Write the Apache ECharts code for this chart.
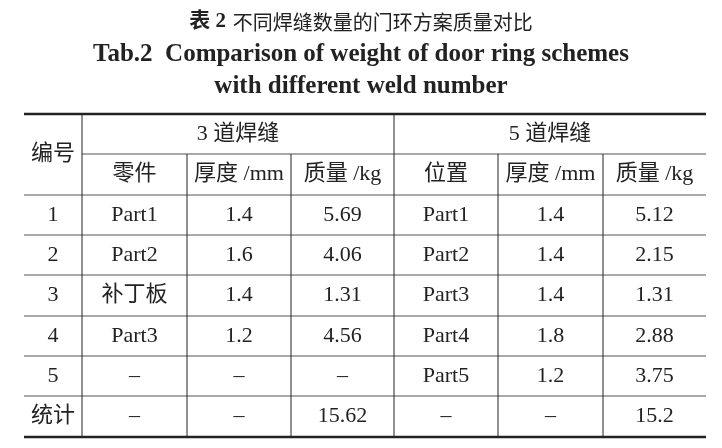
<!DOCTYPE html>
<html>
<head>
<meta charset="utf-8">
<script src="https://cdn.jsdelivr.net/npm/echarts@6/dist/echarts.min.js"></script>
<style>html,body{margin:0;background:#fff}#main{width:722px;height:448px}</style>
</head>
<body>
<div id="main"></div>
<script>
var titleCn = '不同焊缝数量的门环方案质量对比';
var titleEn = ['Tab.2  Comparison of weight of door ring schemes', 'with different weld number'];
var groupHeaders = ['3 道焊缝', '5 道焊缝'];
var subHeaders = ['零件', '厚度 /mm', '质量 /kg', '位置', '厚度 /mm', '质量 /kg'];
var ids = ['1', '2', '3', '4', '5', '统计'];
var parts3 = ['Part1', 'Part2', '补丁板', 'Part3', '–', '–'];
var thick3 = ['1.4', '1.6', '1.4', '1.2', '–', '–'];
var mass3 = ['5.69', '4.06', '1.31', '4.56', '–', '15.62'];
var parts5 = ['Part1', 'Part2', 'Part3', 'Part4', 'Part5', '–'];
var thick5 = ['1.4', '1.4', '1.4', '1.8', '1.2', '–'];
var mass5 = ['5.12', '2.15', '1.31', '2.88', '3.75', '15.2'];

var colX = [24, 82, 187, 291, 394, 498, 603, 706];
var rowY = [114, 154, 195, 235, 275, 316, 356, 396, 437];
var font = '"Liberation Serif", "Noto Sans CJK SC", serif';
var els = [];

function line(x1, y1, x2, y2, w, c) {
  els.push({ type: 'line', shape: { x1: x1, y1: y1, x2: x2, y2: y2 }, style: { stroke: c || '#222', lineWidth: w || 1 } });
}
function text(x, y, s, size, weight) {
  els.push({ type: 'text', x: x, y: y, style: { text: s, font: (weight || 'normal') + ' ' + (size || 22) + 'px ' + font, fill: '#222', align: 'center', verticalAlign: 'middle' } });
}

// titles
els.push({ type: 'text', x: 361, y: 22, style: { rich: { b: { font: 'bold 21px ' + font, fill: '#222' }, n: { font: '20px "Noto Sans CJK SC", sans-serif', fill: '#222' } }, text: '{b|表 2}  {n|' + titleCn + '}', align: 'center', verticalAlign: 'middle' } });
text(361, 55, titleEn[0], 25, 'bold');
text(361, 87, titleEn[1], 25, 'bold');

// borders
line(colX[0], rowY[0], colX[7], rowY[0], 2.5);
line(colX[0], rowY[8], colX[7], rowY[8], 2.5);
line(colX[1], rowY[1], colX[7], rowY[1], 1, '#555');
for (var r = 2; r < 8; r++) line(colX[0], rowY[r], colX[7], rowY[r], 1, '#555');
line(colX[1], rowY[0], colX[1], rowY[8]);
line(colX[4], rowY[0], colX[4], rowY[8]);
[2, 3, 5, 6].forEach(function (c) { line(colX[c], rowY[1], colX[c], rowY[8]); });

// headers
text((colX[0] + colX[1]) / 2, (rowY[0] + rowY[2]) / 2, '编号');
text((colX[1] + colX[4]) / 2, (rowY[0] + rowY[1]) / 2, groupHeaders[0]);
text((colX[4] + colX[7]) / 2, (rowY[0] + rowY[1]) / 2, groupHeaders[1]);
subHeaders.forEach(function (s, i) { text((colX[i + 1] + colX[i + 2]) / 2, (rowY[1] + rowY[2]) / 2, s); });

// body
var cols = [ids, parts3, thick3, mass3, parts5, thick5, mass5];
cols.forEach(function (col, c) {
  col.forEach(function (v, r) {
    text((colX[c] + colX[c + 1]) / 2, (rowY[r + 2] + rowY[r + 3]) / 2, v);
  });
});

var chart = echarts.init(document.getElementById('main'));
chart.setOption({ animation: false, graphic: { elements: els } });
</script>
</body>
</html>
